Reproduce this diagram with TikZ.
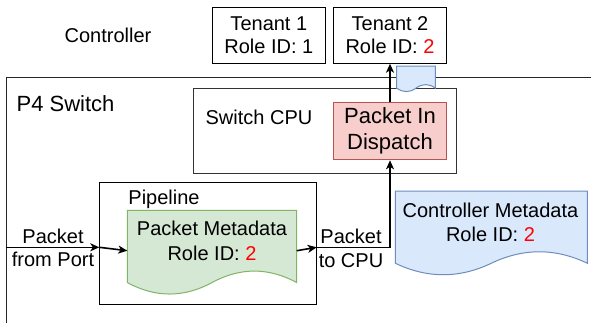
\documentclass[tikz,border=0pt]{standalone}
\usepackage{fontspec}
\setmainfont{Liberation Sans}
\usetikzlibrary{arrows.meta,calc}
\definecolor{gfill}{HTML}{D5E8D4}
\definecolor{gline}{HTML}{82B366}
\definecolor{bfill}{HTML}{DAE8FC}
\definecolor{bline}{HTML}{6C8EBF}
\definecolor{rfill}{HTML}{F8CECC}
\definecolor{rline}{HTML}{B85450}
\definecolor{redtxt}{HTML}{FF0000}
\newcommand{\docshp}[5]{%
 \pgfmathsetmacro{\dsH}{#5-#3}%
 \pgfmathsetmacro{\dsW}{#4-#2}%
 \pgfmathsetmacro{\dsYb}{#3+0.85*\dsH}%
 \pgfmathsetmacro{\dsYu}{#3+0.58*\dsH}%
 \pgfmathsetmacro{\dsYd}{#3+1.12*\dsH}%
 \pgfmathsetmacro{\dsXa}{#2+0.75*\dsW}%
 \pgfmathsetmacro{\dsXm}{#2+0.5*\dsW}%
 \pgfmathsetmacro{\dsXc}{#2+0.25*\dsW}%
 \pgfmathsetmacro{\dsYa}{\dsYb+2/3*(\dsYu-\dsYb)}%
 \pgfmathsetmacro{\dsYc}{\dsYb+2/3*(\dsYd-\dsYb)}%
 \pgfmathsetmacro{\dsXaa}{#4+2/3*(\dsXa-#4)}%
 \pgfmathsetmacro{\dsXab}{\dsXm+2/3*(\dsXa-\dsXm)}%
 \pgfmathsetmacro{\dsXca}{\dsXm+2/3*(\dsXc-\dsXm)}%
 \pgfmathsetmacro{\dsXcb}{#2+2/3*(\dsXc-#2)}%
 \draw[#1] (#2,#3) -- (#4,#3) -- (#4,\dsYb) .. controls (\dsXaa,\dsYa) and (\dsXab,\dsYa) .. (\dsXm,\dsYb) .. controls (\dsXca,\dsYc) and (\dsXcb,\dsYc) .. (#2,\dsYb) -- cycle;%
}
\tikzset{
  box/.style={draw=black, line width=1pt, fill=white, inner sep=0pt, anchor=north west},
  txt/.style={font=\fontsize{20}{23}\selectfont, inner sep=0pt, align=center},
  bigtxt/.style={font=\fontsize{22}{26}\selectfont, inner sep=0pt, align=center},
  conn/.style={line width=1.6pt, -{Stealth[length=9pt,width=8pt,inset=2.5pt]}},
  gdoc/.style={fill=gfill, draw=gline, line width=1pt},
  bdoc/.style={fill=bfill, draw=bline, line width=1pt},
}
\begin{document}
\begin{tikzpicture}[x=1pt,y=-1pt]
\useasboundingbox[fill=white] (0,0) rectangle (591,322);
% Controller area
\node[txt, anchor=base] (ctrl) at (108,42.7) {Controller};
\node[box, minimum width=112.7, minimum height=56] (t1) at (212,6.7) {};
\node[txt] (t1t) at (t1.center) {Tenant 1\\Role ID: 1};
\node[box, minimum width=112.4, minimum height=56] (t2) at (333.3,6.7) {};
\node[txt] (t2t) at (t2.center) {Tenant 2\\Role ID: \textcolor{redtxt}{2}};
% P4 switch
\node[box, draw=black!85, minimum width=700, minimum height=320] (p4) at (5.5,77.3) {};
\node[bigtxt, anchor=base] (p4t) at (65.5,111.7) {P4 Switch};
% Switch CPU
\node[box, draw=black!80, minimum width=262.7, minimum height=84.4] (cpu) at (193.3,88.3) {};
\node[txt, anchor=base] (cput) at (259,124) {Switch CPU};
\node[box, fill=rfill, draw=rline, minimum width=112.4, minimum height=57] (disp) at (333.3,102.3) {};
\node[bigtxt] (dispt) at (disp.center) {Packet In\\Dispatch};
% small document on border
\docshp{bdoc}{396.7}{66}{435.3}{92}
% Pipeline
\node[box, minimum width=216.4, minimum height=121.7] (pipe) at (99.3,182.3) {};
\node[txt, anchor=base] (pipet) at (164,204) {Pipeline};
\docshp{gdoc}{127.3}{210.3}{296.7}{295.3}
\node[txt, font=\fontsize{20}{25}\selectfont] (gmeta) at (212,240.5) {Packet Metadata\\Role ID: \textcolor{redtxt}{2}};
% Controller metadata
\docshp{bdoc}{395.3}{191}{587.3}{276}
\node[txt, font=\fontsize{20}{24}\selectfont] (cmeta) at (490.5,222) {Controller Metadata\\Role ID: \textcolor{redtxt}{2}};
% connectors
\coordinate (portin) at (5.5,247.3);
\coordinate (gdl) at (127.3,250.7);
\coordinate (gdr) at (296.7,250.7);
\draw[conn] (portin) -- (portin -| pipe.west);
\draw[conn] (portin -| pipe.west) -- (gdl);
\draw[conn] (gdr) -- (portin -| pipe.east);
\draw[conn] (portin -| pipe.east) -| (disp.south);
\draw[conn] (disp.north) -- (t2.south);
\node[txt, font=\fontsize{20}{22.6}\selectfont] (lbl1) at (53,248) {Packet\\from Port};
\node[txt, font=\fontsize{20}{24}\selectfont] (lbl2) at (351,248) {Packet\\to CPU};
\end{tikzpicture}
\end{document}
